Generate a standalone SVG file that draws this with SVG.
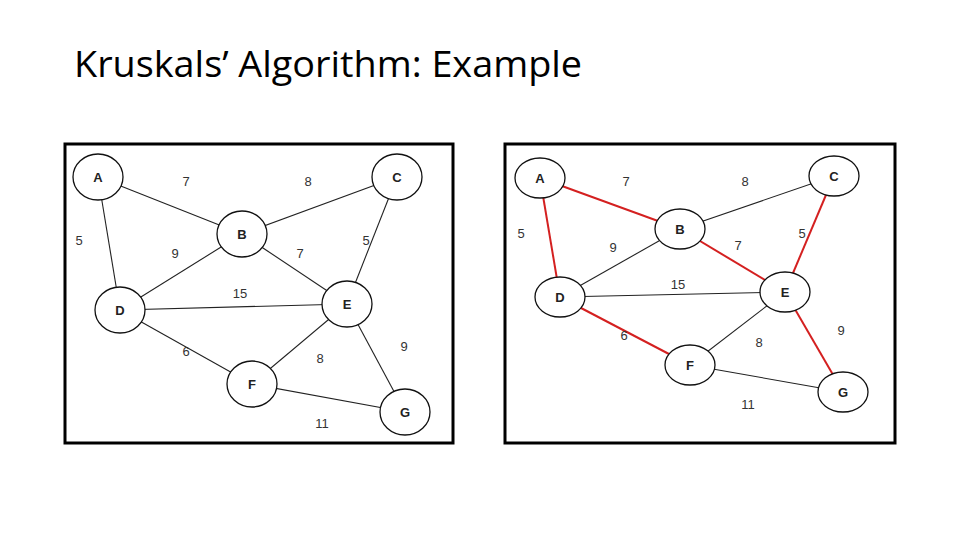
<svg xmlns="http://www.w3.org/2000/svg" width="960" height="540" viewBox="0 0 960 540">
<style>
.frame{fill:#fff;stroke:#000;stroke-width:3}
.n ellipse{fill:#fff;stroke:#111;stroke-width:1.3}
.n text{font-family:"Liberation Sans",Arial,sans-serif;font-size:13px;font-weight:bold;text-anchor:middle;fill:#222}
.e{stroke:#222;stroke-width:1.1;fill:none}
.r{stroke:#d42020;stroke-width:2;fill:none}
.w{font-family:"Liberation Sans",Arial,sans-serif;font-size:13px;text-anchor:middle;fill:#333}
</style>
<rect width="960" height="540" fill="#fff"/>
<text x="74" y="77" font-family="'Open Sans','Liberation Sans',sans-serif" font-size="36" textLength="508" lengthAdjust="spacingAndGlyphs">Kruskals’ Algorithm: Example</text>
<rect class="frame" x="65" y="144" width="388" height="299"/>
<rect class="frame" x="505" y="144" width="390" height="299"/>
<g id="connectors">
<line class="e" x1="98" y1="177" x2="242" y2="234"/>
<line class="e" x1="397" y1="177" x2="242" y2="234"/>
<line class="e" x1="98" y1="177" x2="120" y2="310"/>
<line class="e" x1="242" y1="234" x2="120" y2="310"/>
<line class="e" x1="242" y1="234" x2="347" y2="304"/>
<line class="e" x1="397" y1="177" x2="347" y2="304"/>
<line class="e" x1="120" y1="310" x2="347" y2="304"/>
<line class="e" x1="120" y1="310" x2="252" y2="384"/>
<line class="e" x1="252" y1="384" x2="347" y2="304"/>
<line class="e" x1="347" y1="304" x2="405" y2="412"/>
<line class="e" x1="252" y1="384" x2="405" y2="412"/>
<line class="r" x1="540" y1="178" x2="680" y2="229"/>
<line class="e" x1="834" y1="176" x2="680" y2="229"/>
<line class="r" x1="540" y1="178" x2="560" y2="297"/>
<line class="e" x1="680" y1="229" x2="560" y2="297"/>
<line class="r" x1="680" y1="229" x2="785" y2="292"/>
<line class="r" x1="834" y1="176" x2="785" y2="292"/>
<line class="e" x1="560" y1="297" x2="785" y2="292"/>
<line class="r" x1="560" y1="297" x2="690" y2="365"/>
<line class="e" x1="690" y1="365" x2="785" y2="292"/>
<line class="r" x1="785" y1="292" x2="843" y2="392"/>
<line class="e" x1="690" y1="365" x2="843" y2="392"/>
</g>
<g class="w">
<text class="w" x="186" y="186">7</text><text class="w" x="308" y="186">8</text><text class="w" x="79" y="245">5</text>
<text class="w" x="175" y="258">9</text><text class="w" x="300" y="258">7</text><text class="w" x="366" y="245">5</text>
<text class="w" x="240" y="298">15</text><text class="w" x="186" y="356">6</text><text class="w" x="320" y="363">8</text>
<text class="w" x="404" y="351">9</text><text class="w" x="322" y="428">11</text>
<text class="w" x="626" y="186">7</text><text class="w" x="745" y="186">8</text><text class="w" x="521" y="238">5</text>
<text class="w" x="613" y="252">9</text><text class="w" x="738" y="250">7</text><text class="w" x="802" y="238">5</text>
<text class="w" x="678" y="289">15</text><text class="w" x="624" y="340">6</text><text class="w" x="759" y="347">8</text>
<text class="w" x="841" y="335">9</text><text class="w" x="748" y="409">11</text>
</g>
<g id="L_A" class="n"><ellipse cx="98" cy="177" rx="25" ry="23"/><text x="98" y="182">A</text></g>
<g id="L_C" class="n"><ellipse cx="397" cy="177" rx="25" ry="23"/><text x="397" y="182">C</text></g>
<g id="L_B" class="n"><ellipse cx="242" cy="234" rx="25" ry="23"/><text x="242" y="239">B</text></g>
<g id="L_D" class="n"><ellipse cx="120" cy="310" rx="25" ry="23"/><text x="120" y="315">D</text></g>
<g id="L_E" class="n"><ellipse cx="347" cy="304" rx="25" ry="23"/><text x="347" y="309">E</text></g>
<g id="L_F" class="n"><ellipse cx="252" cy="384" rx="25" ry="23"/><text x="252" y="389">F</text></g>
<g id="L_G" class="n"><ellipse cx="405" cy="412" rx="25" ry="23"/><text x="405" y="417">G</text></g>
<g id="R_A" class="n"><ellipse cx="540" cy="178" rx="25" ry="20"/><text x="540" y="183">A</text></g>
<g id="R_C" class="n"><ellipse cx="834" cy="176" rx="25" ry="20"/><text x="834" y="181">C</text></g>
<g id="R_B" class="n"><ellipse cx="680" cy="229" rx="25" ry="20"/><text x="680" y="234">B</text></g>
<g id="R_D" class="n"><ellipse cx="560" cy="297" rx="25" ry="20"/><text x="560" y="302">D</text></g>
<g id="R_E" class="n"><ellipse cx="785" cy="292" rx="25" ry="20"/><text x="785" y="297">E</text></g>
<g id="R_F" class="n"><ellipse cx="690" cy="365" rx="25" ry="20"/><text x="690" y="370">F</text></g>
<g id="R_G" class="n"><ellipse cx="843" cy="392" rx="25" ry="20"/><text x="843" y="397">G</text></g>
</svg>
